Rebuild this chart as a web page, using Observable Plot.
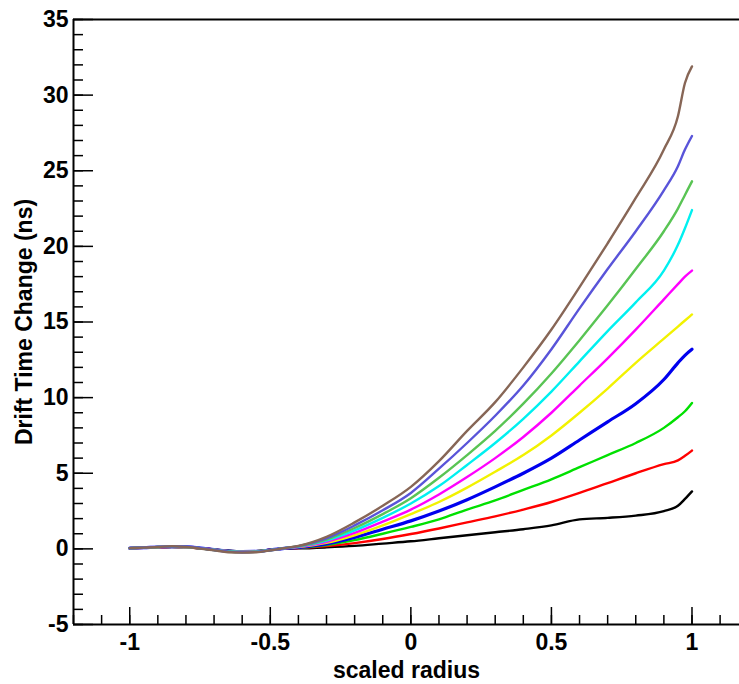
<!DOCTYPE html>
<html>
<head>
<meta charset="utf-8">
<script src="https://cdn.jsdelivr.net/npm/d3@7"></script>
<script src="https://cdn.jsdelivr.net/npm/@observablehq/plot@0.6"></script>
<style>
  html, body { margin: 0; padding: 0; background: #fff; }
  #chart svg { display: block; }
</style>
</head>
<body>
<div id="chart"></div>
<script>
// Shared x grid (scaled radius)
const radius = [-1, -0.95, -0.9, -0.85, -0.8, -0.75, -0.7, -0.65, -0.6, -0.55, -0.5, -0.45,
  -0.4, -0.3, -0.2, -0.1, 0, 0.1, 0.2, 0.3, 0.4, 0.5, 0.6, 0.7, 0.8, 0.9, 0.95, 0.975, 1.0];

// Drift time change (ns) per series
const sBlack   = [0.05,0.07,0.10,0.12,0.10,0.04,-0.04,-0.12,-0.16,-0.15,-0.06,0.02, 0.03,0.10,0.20,0.35,0.50,0.70,0.90,1.10,1.30,1.55,1.95,2.05,2.20,2.50,2.85,3.30,3.80];
const sRed     = [0.05,0.07,0.10,0.13,0.10,0.04,-0.05,-0.13,-0.17,-0.16,-0.06,0.02, 0.06,0.18,0.38,0.65,0.98,1.35,1.75,2.15,2.60,3.10,3.70,4.35,5.00,5.60,5.85,6.15,6.50];
const sGreen   = [0.05,0.08,0.11,0.13,0.11,0.04,-0.05,-0.14,-0.18,-0.16,-0.07,0.03, 0.08,0.26,0.58,1.00,1.45,1.95,2.60,3.20,3.90,4.60,5.40,6.20,7.00,8.00,8.70,9.10,9.65];
const sBlue    = [0.05,0.08,0.12,0.14,0.14,0.06,-0.05,-0.14,-0.18,-0.17,-0.07,0.03, 0.10,0.33,0.75,1.30,1.85,2.50,3.25,4.10,5.00,6.00,7.20,8.40,9.60,11.2,12.3,12.8,13.2];
const sYellow  = [0.05,0.08,0.11,0.14,0.11,0.05,-0.05,-0.15,-0.19,-0.17,-0.07,0.03, 0.12,0.40,0.90,1.55,2.30,3.10,4.05,5.10,6.20,7.50,9.00,10.6,12.3,13.9,14.7,15.1,15.5];
const sMagenta = [0.05,0.08,0.12,0.14,0.11,0.05,-0.06,-0.15,-0.19,-0.18,-0.08,0.03, 0.13,0.47,1.05,1.80,2.60,3.60,4.75,6.00,7.40,9.00,10.8,12.6,14.5,16.5,17.5,18.0,18.4];
const sCyan    = [0.05,0.08,0.12,0.15,0.12,0.05,-0.06,-0.16,-0.20,-0.18,-0.08,0.04, 0.15,0.55,1.22,2.05,3.00,4.15,5.55,7.00,8.60,10.4,12.4,14.4,16.3,18.4,20.1,21.2,22.4];
const sGreen2  = [0.05,0.08,0.12,0.15,0.12,0.04,-0.07,-0.17,-0.21,-0.19,-0.09,0.04, 0.17,0.62,1.38,2.30,3.35,4.70,6.20,7.80,9.60,11.6,13.8,16.1,18.5,21.0,22.5,23.4,24.3];
const sSlate   = [0.05,0.09,0.13,0.16,0.16,0.06,-0.07,-0.18,-0.22,-0.20,-0.09,0.04, 0.18,0.70,1.55,2.55,3.70,5.30,7.00,8.80,10.8,13.2,15.9,18.5,21.0,23.7,25.3,26.4,27.3];
const sBrown   = [0.05,0.08,0.12,0.18,0.12,0.02,-0.10,-0.22,-0.25,-0.22,-0.10,0.05, 0.20,0.80,1.75,2.85,4.10,5.80,7.80,9.70,12.0,14.5,17.3,20.2,23.2,26.4,28.6,30.8,31.9];

const seriesNames  = ["black", "red", "green", "blue", "yellow", "magenta", "cyan", "green2", "slate", "brown"];
const seriesValues = [sBlack, sRed, sGreen, sBlue, sYellow, sMagenta, sCyan, sGreen2, sSlate, sBrown];
const seriesColors = ["#000000", "#ff0000", "#00e000", "#0000ee", "#f2f200", "#ff00ff", "#00f0f0", "#59c454", "#5954d9", "#876656"];

// Axis ticks
const xMajor = [-1, -0.5, 0, 0.5, 1];
const xMinor = d3.range(-12, 12).map(i => i / 10);
const yMajor = [-5, 0, 5, 10, 15, 20, 25, 30, 35];
const yMinor = d3.range(-5, 36);
const xLabels = ["-1", "-0.5", "0", "0.5", "1"];
const xTitle = "scaled radius";
const yTitle = "Drift Time Change (ns)";

const rows = [];
seriesNames.forEach((name, si) => {
  radius.forEach((r, i) => rows.push({series: name, x: r, y: seriesValues[si][i]}));
});

const font = "Liberation Sans, Arial, Helvetica, sans-serif";

const chart = Plot.plot({
  width: 739,
  height: 684,
  marginLeft: 73,
  marginRight: 0,
  marginTop: 19,
  marginBottom: 60,
  style: {fontFamily: font, background: "#fff"},
  x: {domain: [-1.2, 1.169]},
  y: {domain: [-5, 35]},
  color: {domain: seriesNames, range: seriesColors},
  marks: [
    // series
    ...seriesNames.map((name, si) =>
      Plot.line(rows.filter(d => d.series === name), {
        x: "x", y: "y", stroke: seriesColors[si],
        strokeWidth: name === "blue" ? 3.2 : 2.4,
        curve: "monotone-x"
      })
    ),
    // minor ticks
    Plot.axisX(xMinor, {tickSize: -9, tickFormat: null, text: null, strokeWidth: 1.5, label: null}),
    Plot.axisY(yMinor, {tickSize: -10, tickFormat: null, text: null, strokeWidth: 1.5, label: null}),
    // major ticks + labels
    Plot.axisX(xMajor, {
      tickSize: -17, tickPadding: 26, strokeWidth: 1.5,
      tickFormat: (d, i) => xLabels[i],
      fontSize: 23, fontWeight: "bold", fill: "black", label: null
    }),
    Plot.axisY(yMajor, {
      tickSize: -20, tickPadding: 25, strokeWidth: 1.5,
      tickFormat: d => String(d),
      fontSize: 23, fontWeight: "bold", fill: "black", label: null
    }),
    // frame (left, top, bottom; right edge is outside the picture)
    Plot.ruleY([35, -5], {stroke: "black", strokeWidth: 2}),
    Plot.ruleX([-1.2], {stroke: "black", strokeWidth: 2}),
    // axis titles
    Plot.text([xTitle], {
      frameAnchor: "bottom", dy: 46, lineAnchor: "middle", textAnchor: "middle",
      fontSize: 23, fontWeight: "bold", fill: "black"
    }),
    Plot.text([yTitle], {
      frameAnchor: "left", dx: -49, rotate: -90, lineAnchor: "middle", textAnchor: "middle",
      fontSize: 23, fontWeight: "bold", fill: "black"
    })
  ]
});

document.getElementById("chart").appendChild(chart);
</script>
</body>
</html>
